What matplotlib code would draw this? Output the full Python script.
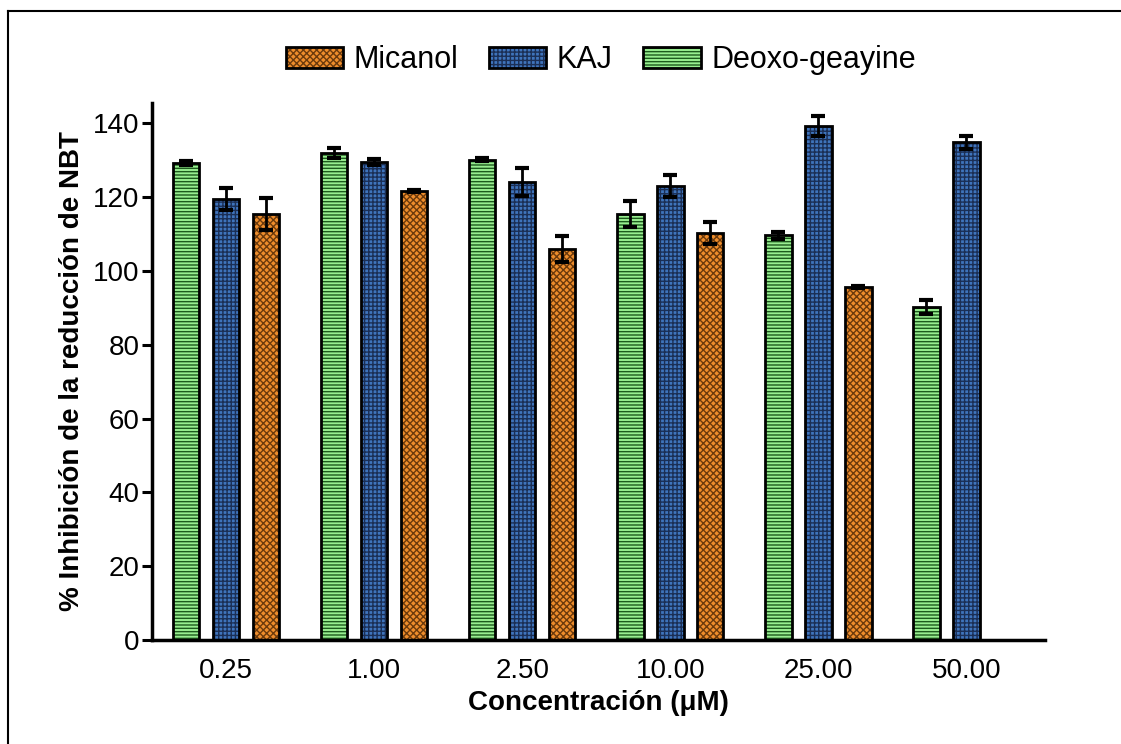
import numpy as np
import matplotlib.pyplot as plt
from matplotlib.lines import Line2D
from matplotlib.legend_handler import HandlerTuple

plt.rcParams['font.family'] = ['Liberation Sans', 'DejaVu Sans']
plt.rcParams['hatch.linewidth'] = 1.0

concentrations = ['0.25', '1.00', '2.50', '10.00', '25.00', '50.00']

deoxo = [129.2, 132.0, 130.1, 115.5, 109.6, 90.2]
deoxo_err = [0.6, 1.3, 0.4, 3.5, 1.0, 1.9]

kaj = [119.5, 129.5, 124.0, 123.0, 139.2, 134.8]
kaj_err = [3.0, 0.8, 3.8, 3.0, 2.7, 1.8]

micanol = [115.4, 121.7, 106.0, 110.2, 95.7, np.nan]
micanol_err = [4.4, 0.3, 3.5, 3.0, 0.3, np.nan]

series = [
    # label, values, errors, fill, hatch colour, hatch, offset
    ('Deoxo-geayine', deoxo, deoxo_err, '#98ee90', '#1d5a1d', '-----', -0.27),
    ('KAJ', kaj, kaj_err, '#3f74bc', '#1b2f55', '++++', 0.0),
    ('Micanol', micanol, micanol_err, '#ee8d2c', '#6b3a0c', 'xxxxx', 0.27),
]

fig = plt.figure(figsize=(11.21, 7.44), dpi=100)
ax = fig.add_axes([0.1356, 0.1398, 0.7964, 0.7218])

x = np.arange(len(concentrations))
width = 0.18
handles = {}
for label, vals, errs, fill, hcol, hatch, off in series:
    pos = x + off
    h1 = ax.bar(pos, vals, width, color=fill, edgecolor=hcol, hatch=hatch,
                linewidth=0, zorder=2)
    h2 = ax.bar(pos, vals, width, fill=False, edgecolor='black',
                linewidth=2, zorder=3)
    ax.errorbar(pos, vals, yerr=errs, fmt='none', ecolor='black',
                elinewidth=2, capsize=5, capthick=3, zorder=4)
    handles[label] = (h1[0], h2[0])

order = ['Micanol', 'KAJ', 'Deoxo-geayine']
fig.legend([handles[k] for k in order], order,
           handler_map={tuple: HandlerTuple(ndivide=1)},
           loc='center', bbox_to_anchor=(0.536, 0.919), ncol=3,
           frameon=False, fontsize=22, handlelength=1.87, handleheight=0.65,
           handletextpad=0.35, columnspacing=1.0)

ax.set_xlim(-0.5, 5.53)
ax.set_ylim(0, 145.5)
ax.set_yticks(np.arange(0, 141, 20))
ax.set_xticks(x)
ax.set_xticklabels(concentrations)

for s in ['top', 'right']:
    ax.spines[s].set_visible(False)
for s in ['left', 'bottom']:
    ax.spines[s].set_linewidth(2.5)

ax.tick_params(axis='y', length=7, width=2.2, labelsize=20, pad=2)
ax.tick_params(axis='x', length=0, labelsize=20, pad=13)

ax.set_ylabel('% Inhibición de la reducción de NBT', fontsize=20,
              fontweight='bold', labelpad=6)
ax.set_xlabel('Concentración (μM)', fontsize=20, fontweight='bold',
              labelpad=4)

# frame lines along the top and left of the figure
fig.add_artist(Line2D([8 / 1121, 1], [1 - 11 / 744, 1 - 11 / 744],
                      color='black', linewidth=1.5, transform=fig.transFigure))
fig.add_artist(Line2D([8 / 1121, 8 / 1121], [0, 1 - 11 / 744],
                      color='black', linewidth=1.5, transform=fig.transFigure))

fig.savefig('out.png', dpi=100)
